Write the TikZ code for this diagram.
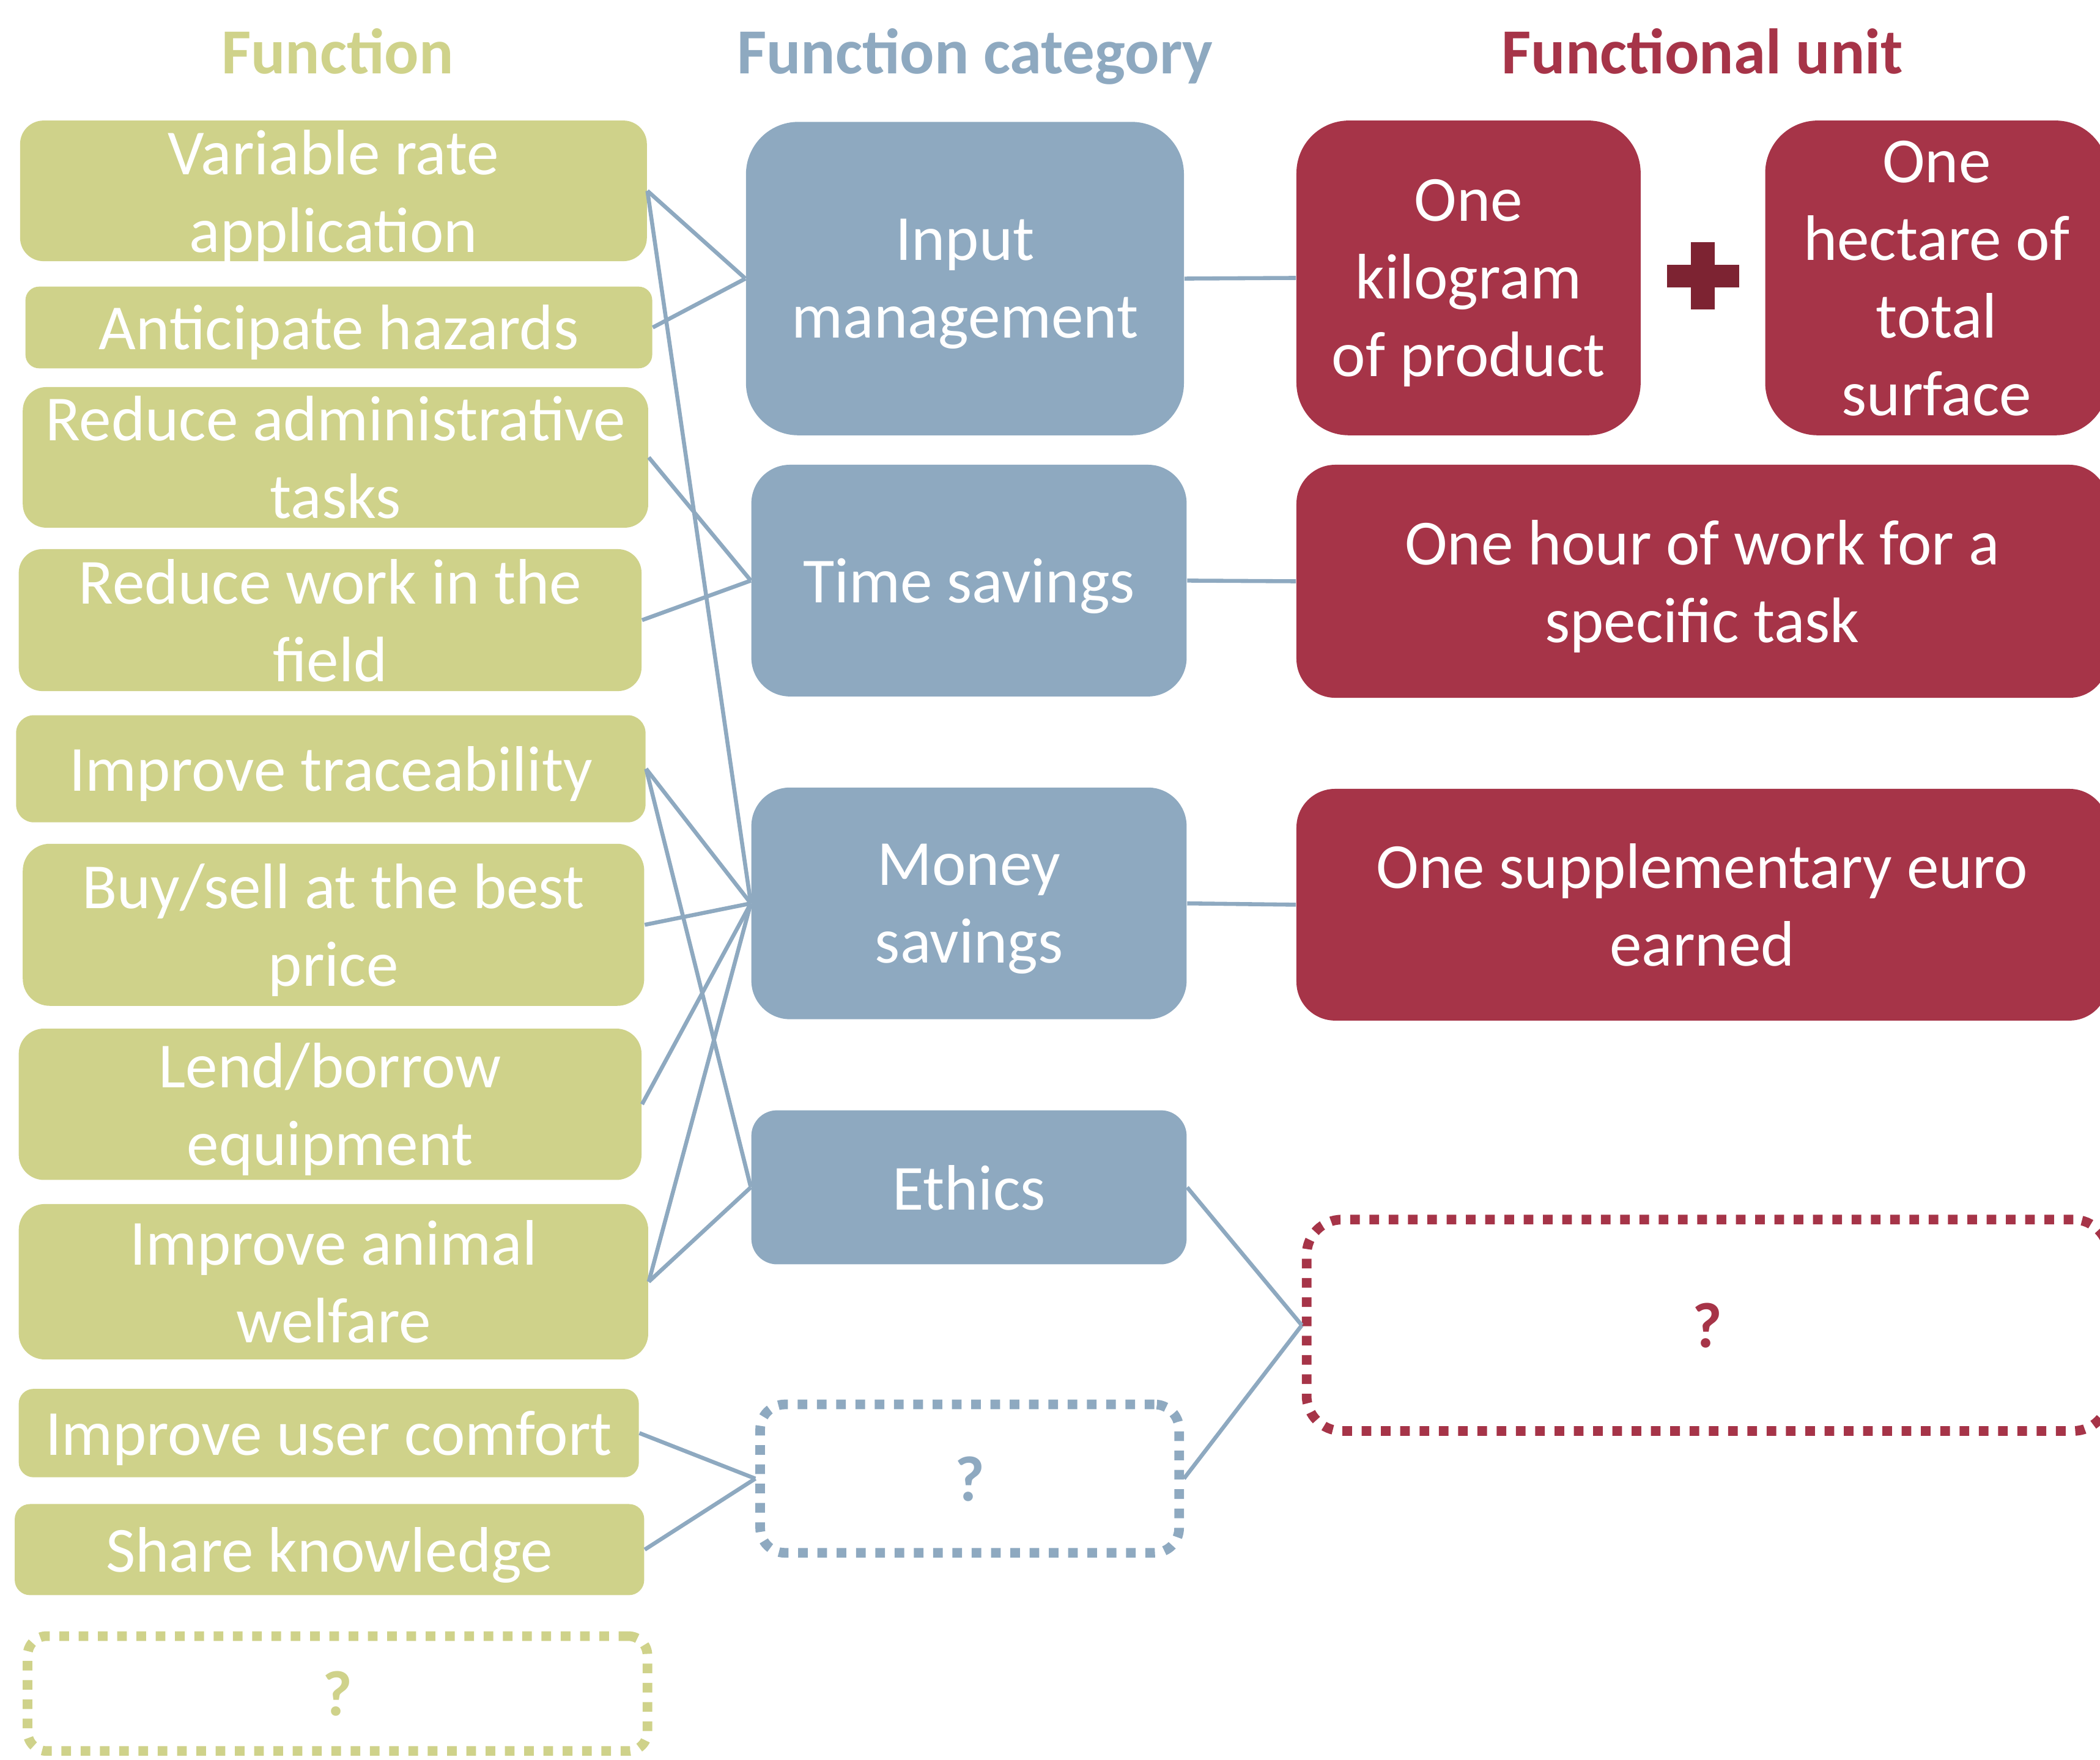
\documentclass[tikz,border=0pt]{standalone}
\usepackage{fontspec}
\setmainfont{Carlito}
\begin{document}
\begin{tikzpicture}[x=0.5pt,y=0.5pt,yscale=-1,
  sz/.style 2 args={minimum width=#1pt, minimum height=#2pt, rounded corners=#2pt/6},
  txt/.style={inner sep=0pt, align=center, text depth=0pt, font=\fontsize{24}{29}\selectfont},
  gbox/.style={txt, fill={rgb, 255:red, 207; green, 210; blue, 138 }, text=white},
  bbox/.style={txt, fill={rgb, 255:red, 142; green, 169; blue, 192 }, text=white},
  rbox/.style={txt, fill={rgb, 255:red, 166; green, 52; blue, 72 }, text=white},
  qbox/.style={txt, font=\bfseries\fontsize{24}{29}\selectfont, line width=3.6pt, dash pattern=on 3.6pt off 3.6pt},
  hdr/.style={inner sep=0pt, text depth=0pt, font=\bfseries\fontsize{24}{29}\selectfont},
  link/.style={draw={rgb, 255:red, 142; green, 169; blue, 192 }, line width=1.5pt}]
\useasboundingbox (0,0) rectangle (1568,1314);

% Text Node
\node [hdr, text={rgb, 255:red, 207; green, 210; blue, 138 }] (hfun) at (252,38) {Function};
\node [hdr, text={rgb, 255:red, 142; green, 169; blue, 192 }] (hcat) at (728,38) {Function category};
\node [hdr, text={rgb, 255:red, 166; green, 52; blue, 72 }] (hunit) at (1271,38) {Functional unit};

%Rounded Rect: functions
\node [gbox, sz={234}{52.5}] (vra) at (249,142.5) {Variable rate\\application};
\node [gbox, sz={234}{30.5}] (ant) at (253,244.5) {Anticipate hazards};
\node [gbox, sz={233.5}{52.5}] (adm) at (250.5,341.5) {Reduce administrative\\tasks};
\node [gbox, sz={232.5}{53}] (wrk) at (246.5,463) {Reduce work in the\\field};
\node [gbox, sz={235}{40}] (trc) at (247,574) {Improve traceability};
\node [gbox, sz={232}{60.5}] (buy) at (249,690.5) {Buy/sell at the best\\price};
\node [gbox, sz={232.5}{56.5}] (lnd) at (246.5,824.5) {Lend/borrow\\equipment};
\node [gbox, sz={235}{58}] (anw) at (249,957) {Improve animal\\welfare};
\node [gbox, sz={231.5}{33}] (usr) at (245.5,1070) {Improve user comfort};
\node [gbox, sz={235}{34}] (shr) at (246,1157) {Share knowledge};
\node [qbox, sz={231.4}{42.9}, draw={rgb, 255:red, 207; green, 210; blue, 138 }, text={rgb, 255:red, 207; green, 210; blue, 138 }] (gq) at (252,1264.5) {?};

%Rounded Rect: function categories
\node [bbox, sz={163.5}{117}] (inp) at (720.5,208) {Input\\management};
\node [bbox, sz={162.5}{86.5}] (tim) at (723.5,433.5) {Time savings};
\node [bbox, sz={162.5}{86.5}] (mon) at (723.5,674.5) {Money\\savings};
\node [bbox, sz={162.5}{57.5}] (eth) at (723.5,886.5) {Ethics};
\node [qbox, sz={156.4}{55.4}, draw={rgb, 255:red, 142; green, 169; blue, 192 }, text={rgb, 255:red, 142; green, 169; blue, 192 }] (bq) at (724,1104) {?};

%Rounded Rect: functional units
\node [rbox, sz={128.5}{117.5}] (kg) at (1096.5,207.5) {One\\kilogram\\of product};
\node [rbox, sz={128}{117.5}] (ha) at (1446,207.5) {One\\hectare of\\total\\surface};
\node [rbox, sz={303}{87}] (hr) at (1271,434) {One hour of work for a\\specific task};
\node [rbox, sz={303}{86.5}] (eur) at (1271,675.5) {One supplementary euro\\earned};
\node [qbox, sz={299.4}{78.9}, draw={rgb, 255:red, 166; green, 52; blue, 72 }, text={rgb, 255:red, 166; green, 52; blue, 72 }] (rq) at (1275,989.5) {?};

%Shape: Cross
\fill [fill={rgb, 255:red, 125; green, 35; blue, 50 }] (1244.5,197.5) rectangle (1298.5,214.5);
\fill [fill={rgb, 255:red, 125; green, 35; blue, 50 }] (1262.5,181) rectangle (1280.5,231);

%Straight Lines
\draw [link] (vra.east) -- (inp.west);
\draw [link] (vra.east) -- (mon.west);
\draw [link] (ant.east) -- (inp.west);
\draw [link] (adm.east) -- (tim.west);
\draw [link] (wrk.east) -- (tim.west);
\draw [link] (trc.east) -- (mon.west);
\draw [link] (trc.east) -- (eth.west);
\draw [link] (buy.east) -- (mon.west);
\draw [link] (lnd.east) -- (mon.west);
\draw [link] (anw.east) -- (mon.west);
\draw [link] (anw.east) -- (eth.west);
\draw [link] (usr.east) -- (bq.west);
\draw [link] (shr.east) -- (bq.west);
\draw [link] (inp.east) -- (kg.west);
\draw [link] (tim.east) -- (hr.west);
\draw [link] (mon.east) -- (eur.west);
\draw [link] (eth.east) -- (rq.west);
\draw [link] (bq.east) -- (rq.west);

\end{tikzpicture}
\end{document}
